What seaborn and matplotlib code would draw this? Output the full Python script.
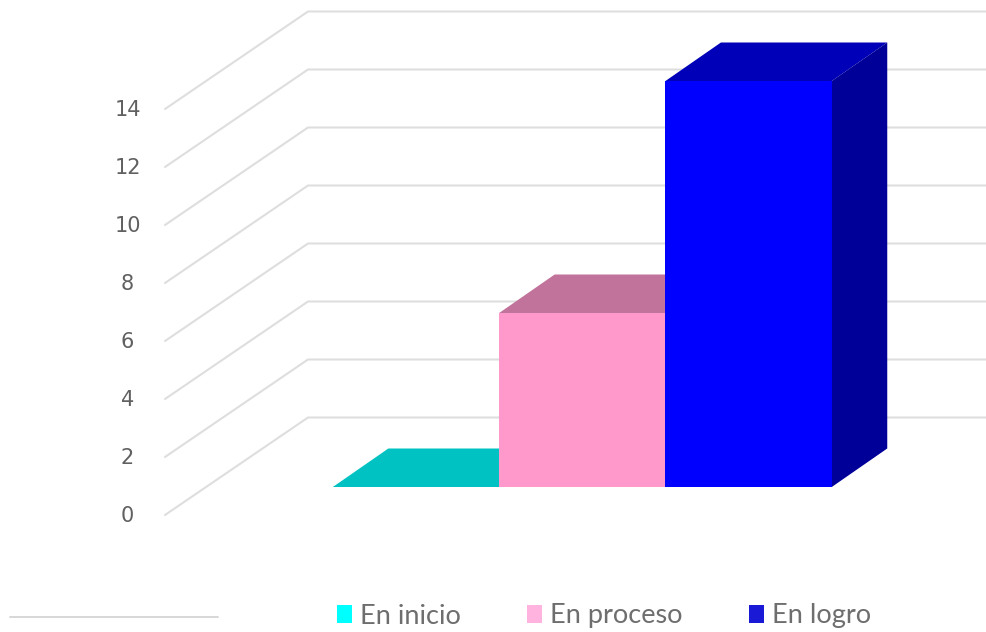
import matplotlib
matplotlib.use("Agg")
import matplotlib.pyplot as plt
from matplotlib.patches import Patch, Polygon
import pandas as pd
import seaborn as sns

categories = ["En inicio", "En proceso", "En logro"]
values = [0, 6, 14]
tick_values = [0, 2, 4, 6, 8, 10, 12, 14]
front_colors = ["#00FFFF", "#FF99CC", "#0000FF"]
top_colors = ["#00C2C2", "#C1739B", "#0000B8"]
side_colors = ["#009999", "#B0608A", "#000099"]
legend_colors = ["#00FFFF", "#FFB3DE", "#1A1AD6"]

W, H = 986, 632
CAT_PX, UNIT_PX = 166.3, 29.0
X0_PX, Y0_PX = 416.0, 487.0     # pixel of category 0 centre / value 0 on front plane
DX, DY = 55.5 / CAT_PX, 38.5 / UNIT_PX   # bar depth in data units
GRID_L = (165 - X0_PX) / CAT_PX
GRID_B = (308 - X0_PX) / CAT_PX
GRID_R = (W - X0_PX) / CAT_PX
OFF_L = (487 - 515) / UNIT_PX
OFF_B = (487 - 417.5) / UNIT_PX

sns.set_theme(style="white")
fig = plt.figure(figsize=(W / 100, H / 100), dpi=100, facecolor="white")
ax = fig.add_axes([0, 0, 1, 1])
df = pd.DataFrame({"cat": categories, "val": values})

# walls: gridlines
for t in tick_values:
    ax.plot([GRID_L, GRID_B, GRID_R], [t + OFF_L, t + OFF_B, t + OFF_B],
            color="#DEDEDE", lw=1.5, zorder=1, solid_joinstyle="miter")
    ax.text(GRID_L - 0.225, t + OFF_L - 0.04, str(t), ha="center", va="center",
            fontsize=15, color="#606060", family="DejaVu Sans")

# depth faces
for i, v in enumerate(values):
    l, r = i - 0.5, i + 0.5
    ax.add_patch(Polygon([(l, v), (l + DX, v + DY), (r + DX, v + DY), (r, v)],
                         closed=True, fc=top_colors[i], ec="none", zorder=2 + i))
    ax.add_patch(Polygon([(r, 0), (r + DX, DY), (r + DX, v + DY), (r, v)],
                         closed=True, fc=side_colors[i], ec="none", zorder=2 + i))

# front faces
sns.barplot(data=df, x="cat", y="val", hue="cat", palette=dict(zip(categories, front_colors)),
            order=categories, hue_order=categories, width=1.0, dodge=False, legend=False,
            saturation=1, ax=ax, zorder=6, linewidth=0, edgecolor="none")

ax.set_xlim(-X0_PX / CAT_PX, (W - X0_PX) / CAT_PX)
ax.set_ylim((Y0_PX - H) / UNIT_PX, Y0_PX / UNIT_PX)
ax.set_axis_off()

# rule in the lower left
ax.plot([(10 - X0_PX) / CAT_PX, (218 - X0_PX) / CAT_PX], [(487 - 617) / UNIT_PX] * 2,
        color="#D4D4D4", lw=1.3, zorder=1)

handles = [Patch(fc=c, ec="none", label=n) for c, n in zip(legend_colors, categories)]
leg = ax.legend(handles=handles, ncols=3, loc="center", frameon=False,
                bbox_to_anchor=(604 / W, 1 - 616 / H), handlelength=0.55, handleheight=0.6,
                handletextpad=0.3, columnspacing=2.45, borderpad=0, labelcolor="#6E6E6E",
                prop={"family": "Lato", "size": 19.5})
fig.savefig("out.png", dpi=100, facecolor="white")
